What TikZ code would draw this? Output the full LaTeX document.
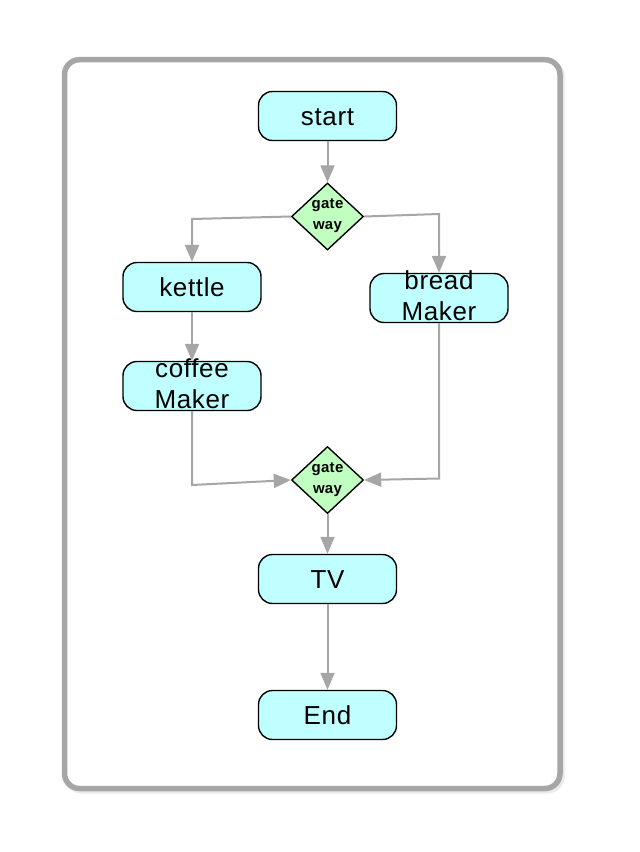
\documentclass[tikz,border=0pt]{standalone}
\usepackage{fontspec}
\setmainfont{Liberation Sans}[LetterSpace=2.5]
\newfontfamily\gwfont{Liberation Sans}[LetterSpace=2]
\usetikzlibrary{shapes.geometric,arrows.meta}
\definecolor{boxfill}{HTML}{C0FFFF}
\definecolor{gwfill}{HTML}{C0FFC0}
\definecolor{edgegray}{HTML}{A6A6A6}
\newcommand{\twolines}[2]{\raisebox{1.5pt}{\smash{\begin{tabular}{@{}c@{}}#1\\#2\end{tabular}}}}
\newcommand{\gwtext}{\raisebox{-4pt}{\smash{\begin{tabular}{@{}c@{}}gate\\way\end{tabular}}}}
\tikzset{
  taskbox/.style={draw=black, line width=1.4pt, fill=boxfill, rounded corners=14pt,
    minimum width=138pt, minimum height=49pt, inner sep=0pt,
    font=\fontsize{26pt}{31pt}\selectfont, text height=18pt, text depth=0pt},
  gwbox/.style={diamond, draw=black, line width=1.4pt, fill=gwfill,
    minimum width=72pt, minimum height=67pt, inner sep=0pt,
    font=\gwfont\bfseries\fontsize{15pt}{21pt}\selectfont},
  flow/.style={draw=edgegray, line width=2pt, -{Triangle[length=17pt,width=14pt]}},
}
\begin{document}
\begin{tikzpicture}[x=1pt,y=-1pt]
\useasboundingbox (0,0) rectangle (640,852);
% frame with faint shadow
\draw[line width=6pt, color=black!8, rounded corners=15pt] (66.5,62) rectangle (562,790.5);
\draw[line width=5.5pt, color=edgegray, rounded corners=15pt, fill=white] (64.5,59.7) rectangle (560,788.5);

\node[taskbox] (start) at (327.5,116) {start};
\node[gwbox] (g1) at (327.5,216.5) {\gwtext};
\node[taskbox] (kettle) at (192,287) {kettle};
\node[taskbox] (bread) at (439,298) {\twolines{bread}{Maker}};
\node[taskbox] (coffee) at (192,386) {\twolines{coffee}{Maker}};
\node[gwbox] (g2) at (327.5,480) {\gwtext};
\node[taskbox] (tv) at (327.5,579) {TV};
\node[taskbox] (end) at (327.5,715) {End};

\coordinate (c1) at (192,219);
\coordinate (c2) at (439,214);
\coordinate (c3) at (192,485);
\coordinate (c4) at (439,478.5);

\draw[flow] (start.south) -- (g1.north);
\draw[flow] (g1.west) -- (c1) -- (kettle.north);
\draw[flow] (g1.east) -- (c2) -- (bread.north);
\draw[flow] (kettle.south) -- (coffee.north);
\draw[flow] (coffee.south) -- (c3) -- (g2.west);
\draw[flow] (bread.south) -- (c4) -- (g2.east);
\draw[flow] (g2.south) -- (tv.north);
\draw[flow] (tv.south) -- (end.north);
\end{tikzpicture}
\end{document}
